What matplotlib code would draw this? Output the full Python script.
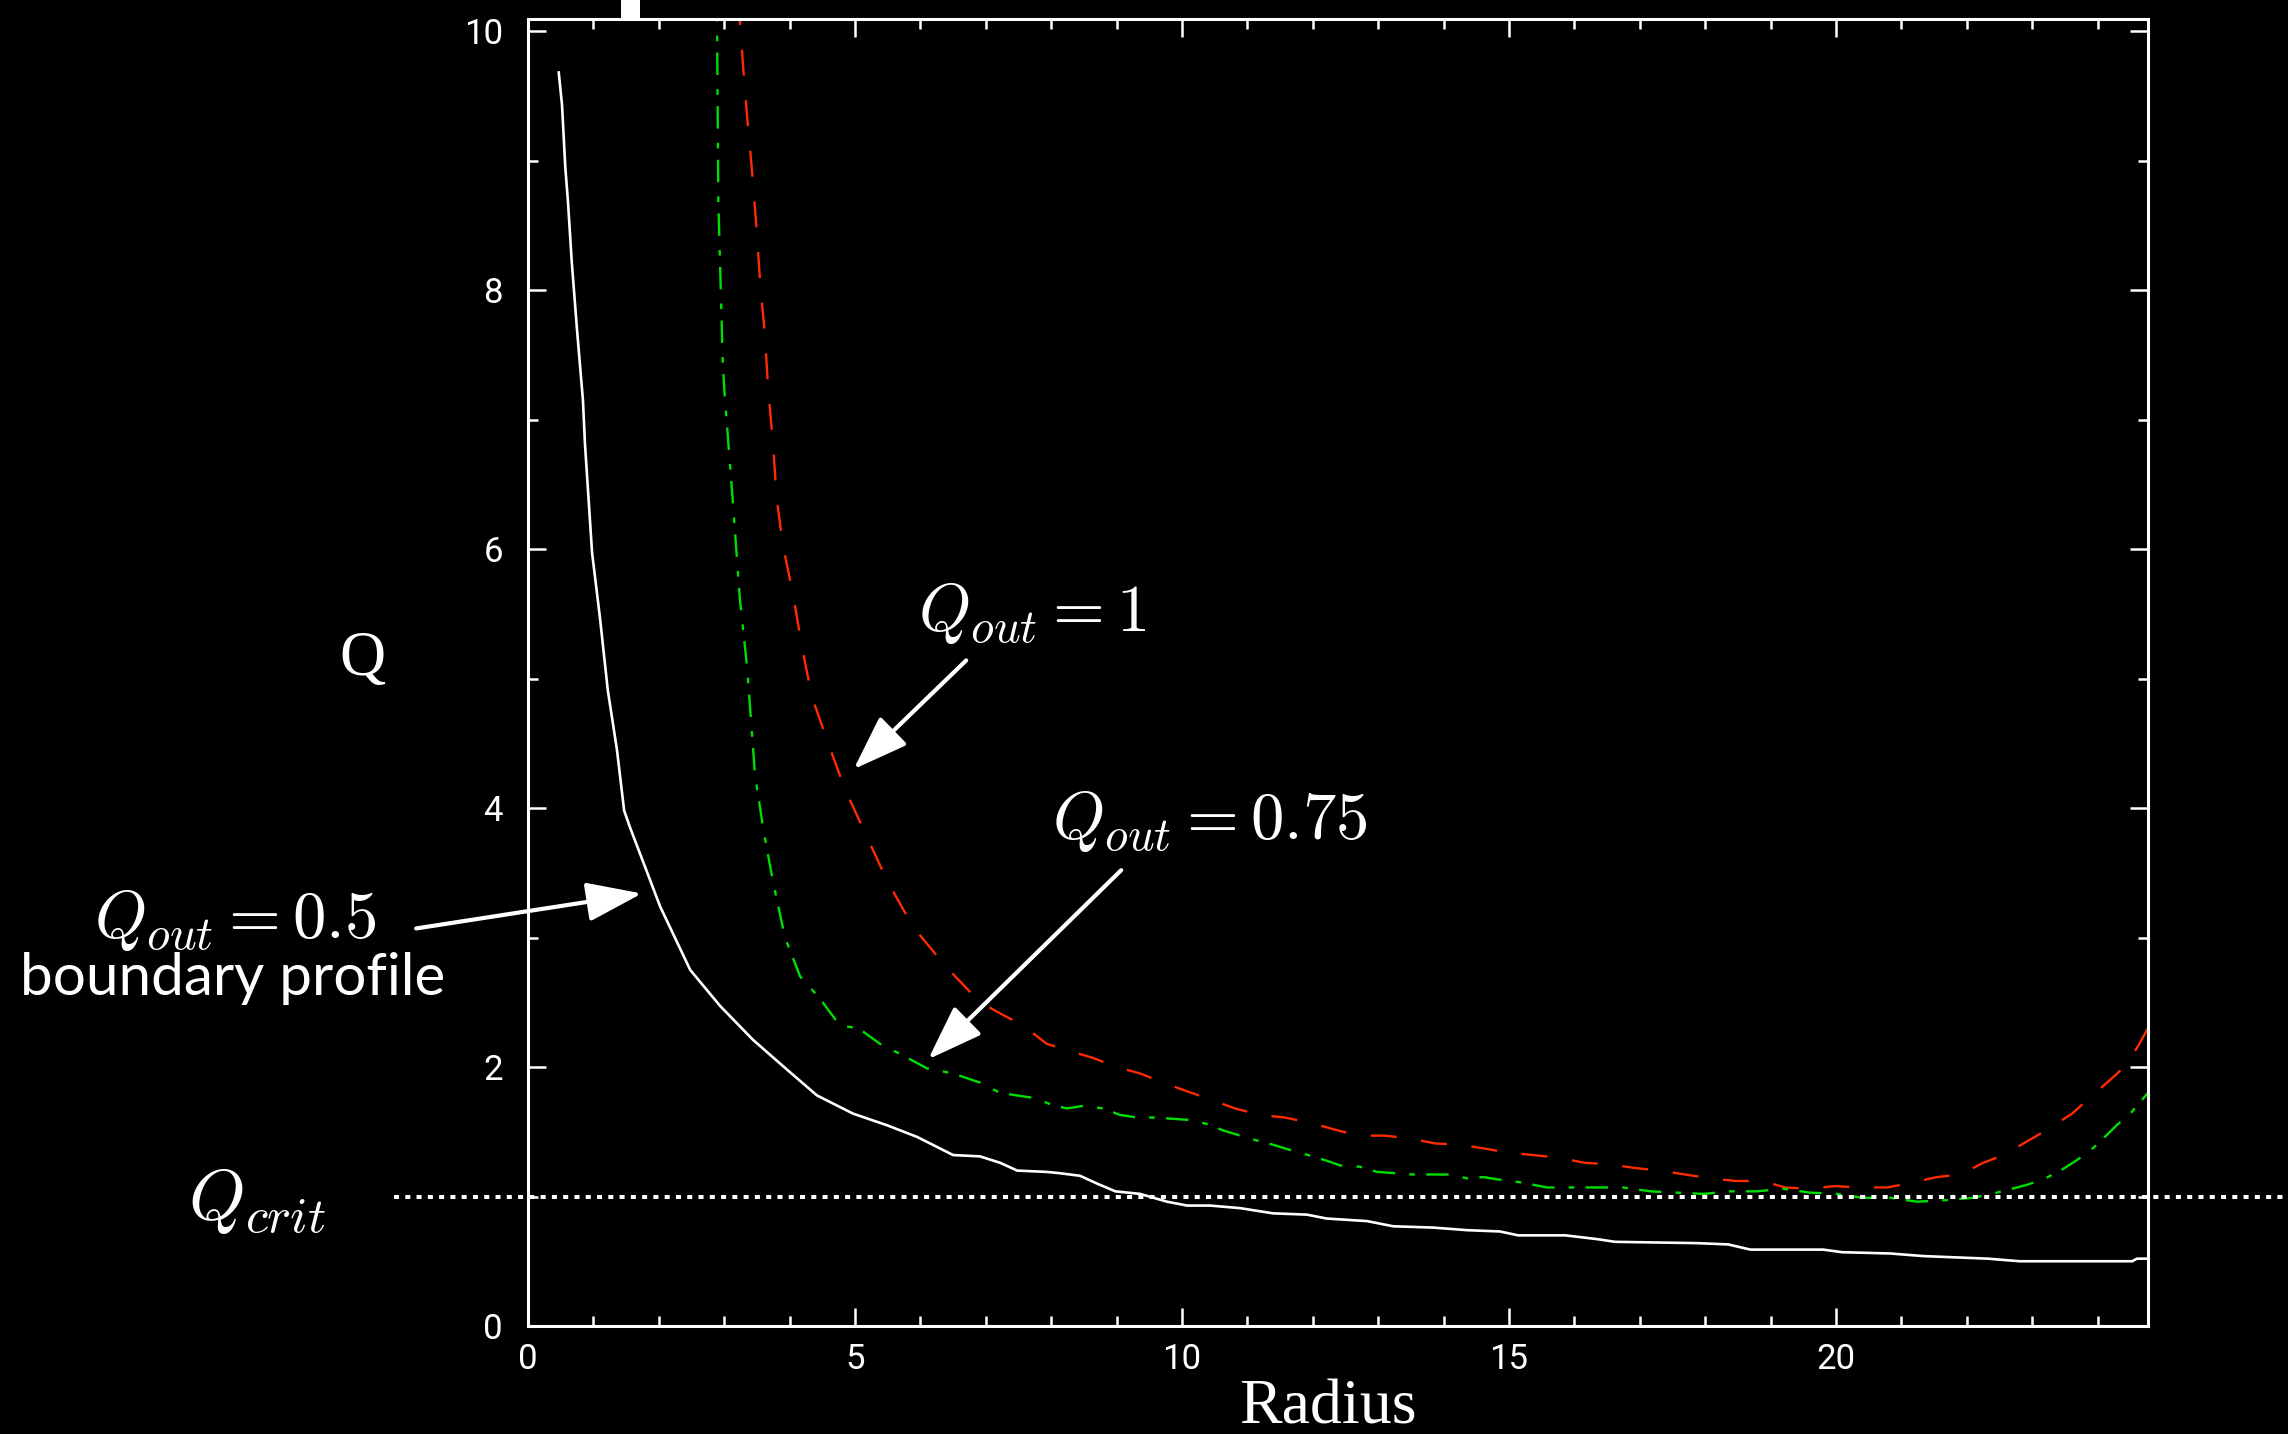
import matplotlib
matplotlib.use("Agg")
import matplotlib.pyplot as plt
from matplotlib.ticker import MultipleLocator
from matplotlib.patches import Rectangle

# ---- data ----
r_q05 = [0.47, 0.52, 0.57, 0.61, 0.67, 0.75, 0.84, 0.87, 0.98, 1.10, 1.22, 1.36, 1.47, 1.56, 2.02, 2.48,
         2.94, 3.44, 3.96, 4.42, 4.97, 5.49, 5.95, 6.50, 6.91, 7.22, 7.48, 7.93, 8.13, 8.44, 8.70, 8.98,
         9.36, 9.77, 10.08, 10.43, 10.89, 11.39, 11.91, 12.21, 12.83, 13.23, 13.84, 14.36, 14.86, 15.14,
         15.86, 16.36, 16.62, 17.87, 18.35, 18.69, 19.80, 20.09, 20.83, 21.33, 22.32, 22.81, 24.53, 24.60, 24.77]
q_q05 = [9.68, 9.43, 8.95, 8.69, 8.21, 7.69, 7.15, 6.82, 5.97, 5.47, 4.91, 4.45, 3.98, 3.85, 3.24, 2.75,
         2.47, 2.21, 1.98, 1.78, 1.64, 1.55, 1.46, 1.32, 1.31, 1.26, 1.20, 1.19, 1.18, 1.16, 1.10, 1.04,
         1.02, 0.96, 0.93, 0.93, 0.91, 0.87, 0.86, 0.83, 0.81, 0.77, 0.76, 0.74, 0.73, 0.70,
         0.70, 0.67, 0.65, 0.64, 0.63, 0.59, 0.59, 0.57, 0.56, 0.54, 0.52, 0.50, 0.50, 0.52, 0.52]

r_q1 = [3.22, 3.24, 3.29, 3.35, 3.42, 3.50, 3.55, 3.62, 3.67, 3.75, 3.80, 3.90, 4.05, 4.19, 4.34, 4.59,
        4.85, 5.18, 5.49, 5.89, 6.40, 6.91, 7.27, 7.57, 7.93, 8.24, 8.64, 9.00, 9.36, 9.71, 10.09, 10.43,
        10.81, 11.19, 11.57, 11.96, 12.31, 12.69, 13.10, 13.46, 13.87, 14.25, 14.63, 14.97, 15.37, 15.75,
        16.16, 16.51, 16.93, 17.31, 17.69, 18.10, 18.46, 18.87, 19.22, 19.57, 19.98, 20.37, 20.78, 21.10,
        21.54, 21.90, 22.25, 22.56, 22.97, 23.24, 23.61, 23.85, 24.19, 24.45, 24.65, 24.77]
q_q1 = [10.30, 10.08, 9.72, 9.34, 8.95, 8.44, 8.05, 7.67, 7.25, 6.79, 6.40, 6.02, 5.66, 5.24, 4.86, 4.50,
        4.14, 3.78, 3.44, 3.08, 2.77, 2.50, 2.40, 2.32, 2.18, 2.13, 2.07, 2.00, 1.95, 1.88, 1.81, 1.75,
        1.68, 1.63, 1.61, 1.57, 1.52, 1.47, 1.47, 1.45, 1.41, 1.40, 1.37, 1.34, 1.32, 1.30,
        1.26, 1.25, 1.22, 1.20, 1.17, 1.14, 1.12, 1.12, 1.07, 1.06, 1.08, 1.07, 1.07, 1.10,
        1.15, 1.17, 1.26, 1.32, 1.44, 1.52, 1.64, 1.75, 1.90, 2.02, 2.19, 2.30]

r_q075 = [2.87, 2.89, 2.91, 2.98, 3.01, 3.13, 3.24, 3.35, 3.47, 3.60, 3.75, 3.93, 4.16, 4.46, 4.77, 5.05,
          5.38, 5.73, 6.10, 6.50, 6.91, 7.22, 7.48, 7.75, 8.00, 8.24, 8.49, 8.80, 9.05, 9.31, 9.59, 9.86,
          10.15, 10.38, 10.63, 10.89, 11.16, 11.39, 11.65, 11.93, 12.19, 12.42, 12.72, 12.98, 13.26, 13.53,
          13.84, 14.10, 14.36, 14.60, 14.86, 15.17, 15.58, 15.98, 16.35, 16.74, 17.16, 17.57, 17.97, 18.38,
          18.79, 19.19, 19.60, 20.01, 20.41, 20.83, 21.24, 21.64, 22.10, 22.46, 22.92, 23.20, 23.43, 23.65,
          23.88, 24.07, 24.29, 24.50, 24.65, 24.77]
q_q075 = [10.30, 10.08, 8.69, 7.41, 7.17, 6.38, 5.61, 5.09, 4.26, 3.83, 3.42, 3.00, 2.70, 2.53, 2.32, 2.30,
          2.18, 2.09, 1.99, 1.95, 1.88, 1.80, 1.78, 1.76, 1.71, 1.68, 1.70, 1.68, 1.63, 1.61, 1.61, 1.60,
          1.59, 1.56, 1.51, 1.47, 1.43, 1.40, 1.36, 1.32, 1.28, 1.24, 1.23, 1.19, 1.18, 1.17,
          1.17, 1.17, 1.14, 1.15, 1.13, 1.11, 1.07, 1.07, 1.07, 1.07, 1.04, 1.03, 1.02, 1.04,
          1.04, 1.06, 1.03, 1.02, 0.99, 0.99, 0.96, 0.97, 0.99, 1.03, 1.09, 1.14, 1.20, 1.27,
          1.35, 1.44, 1.55, 1.64, 1.73, 1.80]

q_crit = 1.0
crit_span = [-2.05, 26.9]
x_ticks = [0, 5, 10, 15, 20]
y_ticks = [0, 2, 4, 6, 8, 10]

# ---- figure ----
plt.rcParams["mathtext.fontset"] = "cm"
fig = plt.figure(figsize=(22.88, 14.34), dpi=100, facecolor="black")
ax = fig.add_axes([528 / 2288, 1 - 1326 / 1434, (2148 - 528) / 2288, (1326 - 19) / 1434])
ax.set_facecolor("black")
ax.set_xlim(0, 24.77)
ax.set_ylim(0, 10.093)

for s in ax.spines.values():
    s.set_color("white")
    s.set_linewidth(2.2)

ax.set_xticks(x_ticks)
ax.set_yticks(y_ticks)
ax.xaxis.set_minor_locator(MultipleLocator(1))
ax.yaxis.set_minor_locator(MultipleLocator(1))
ax.tick_params(which="both", direction="in", colors="white", top=True, right=True, width=1.8)
ax.tick_params(which="major", length=13)
ax.tick_params(which="minor", length=7.5)
ax.tick_params(axis="x", which="major", labelsize=25, pad=12)
ax.tick_params(axis="y", which="major", labelsize=25, pad=18)
for lab in ax.get_xticklabels() + ax.get_yticklabels():
    lab.set_fontfamily(["Roboto", "DejaVu Sans"])
    lab.set_fontweight("normal")
    lab.set_color("white")

# curves
ax.plot(r_q05, q_q05, color="white", lw=1.9, solid_joinstyle="miter")
ax.plot(r_q1, q_q1, color="#ff2a00", lw=1.7, dashes=(11, 10.5))
ax.plot(r_q075, q_q075, color="#00e000", lw=1.7, dashes=(9.5, 6.0, 2.4, 4.8))

# Q_crit dotted line (extends beyond the axes)
ax.plot(crit_span, [q_crit, q_crit], color="white", lw=2.9, dashes=(1.25, 1.55),
        dash_capstyle="butt", clip_on=False)

# arrows
arrow_kw = dict(arrowstyle="-|>,head_length=0.9,head_width=0.32", color="white", lw=3.0,
                mutation_scale=38, shrinkA=0, shrinkB=0)
ax.annotate("", xy=(4.98, 4.30), xytext=(6.70, 5.14), arrowprops=arrow_kw, annotation_clip=False)
ax.annotate("", xy=(6.12, 2.06), xytext=(9.07, 3.52), arrowprops=arrow_kw, annotation_clip=False)
ax.annotate("", xy=(1.74, 3.34), xytext=(-1.71, 3.07), arrowprops=arrow_kw, annotation_clip=False)

# labels
serif = ["Liberation Serif", "DejaVu Serif"]
fig.text(0.1582, 0.5397, "Q", color="white", fontsize=46, family=serif, ha="center", va="center")
fig.text(0.5804, 0.007, "Radius", color="white", fontsize=46, family=serif, ha="center", va="baseline")
fig.text(0.451, 0.5725, r"$Q_{out} = 1$", color="white", fontsize=48, ha="center", va="center")
fig.text(0.5288, 0.4275, r"$Q_{out} = 0.75$", color="white", fontsize=48, ha="center", va="center")
fig.text(0.1027, 0.3584, r"$Q_{out} = 0.5$", color="white", fontsize=48, ha="center", va="center")
fig.text(0.1018, 0.3173, "boundary profile", color="white", fontsize=42,
         family=["Lato", "DejaVu Sans"], ha="center", va="center")
fig.text(0.1123, 0.1618, r"$Q_{crit}$", color="white", fontsize=52, ha="center", va="center")

# small white marker at the top edge
fig.add_artist(Rectangle((621 / 2288, 1 - 20 / 1434), 19 / 2288, 20 / 1434,
                         transform=fig.transFigure, facecolor="white", edgecolor="none"))

fig.savefig("out.png", dpi=100, facecolor="black")
